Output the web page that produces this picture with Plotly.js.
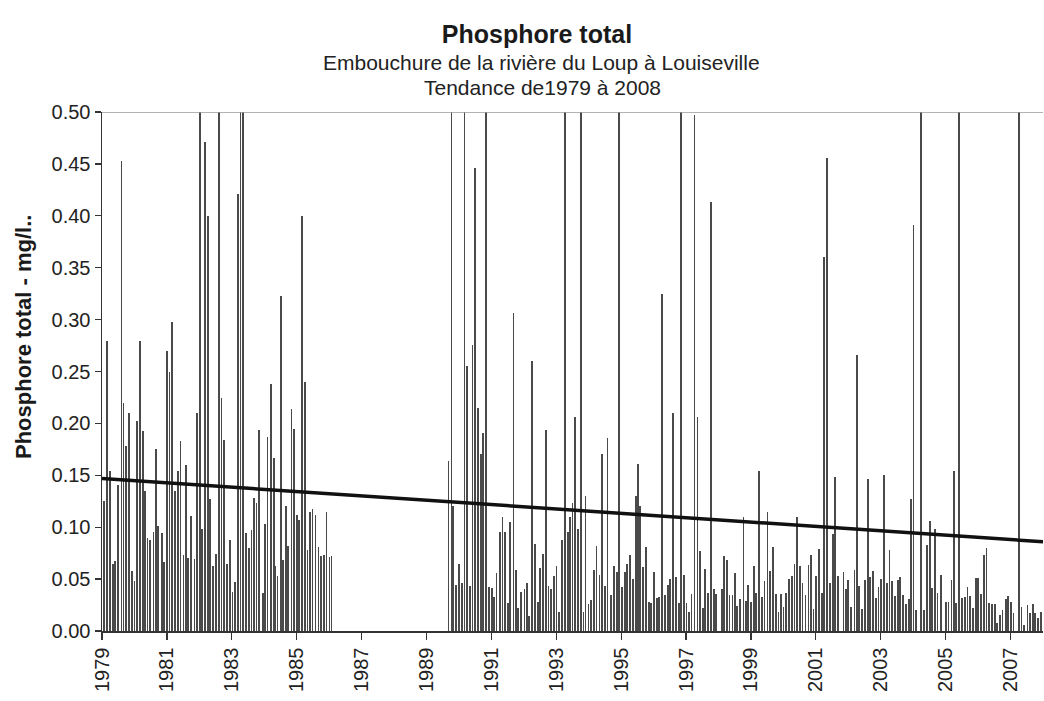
<!DOCTYPE html>
<html>
<head>
<meta charset="utf-8">
<script src="https://cdn.plot.ly/plotly-3.0.1.min.js"></script>
<style>html,body{margin:0;padding:0;background:#fff;}#chart{width:1044px;height:701px;}</style>
</head>
<body>
<div id="chart"></div>
<script>
// Sampling dates (decimal years) and total phosphorus (mg/l)
const years = [
 1979.06,1979.15,1979.25,1979.34,1979.41,1979.49,1979.60,1979.66,1979.74,1979.84,1979.93,
 1980.00,1980.07,1980.18,1980.27,1980.33,1980.40,1980.49,1980.59,1980.67,1980.73,1980.84,1980.92,
 1981.00,1981.08,1981.16,1981.25,1981.33,1981.42,1981.51,1981.60,1981.66,1981.75,1981.85,1981.93,
 1982.02,1982.09,1982.18,1982.26,1982.34,1982.42,1982.51,1982.61,1982.68,1982.75,1982.86,1982.94,
 1983.02,1983.10,1983.19,1983.27,1983.35,1983.43,1983.52,1983.61,1983.69,1983.76,1983.85,1983.95,
 1984.03,1984.10,1984.20,1984.29,1984.34,1984.41,1984.51,1984.59,1984.67,1984.74,1984.84,1984.92,
 1985.00,1985.08,1985.16,1985.26,1985.33,1985.41,1985.49,1985.58,1985.67,1985.75,1985.83,1985.92,1986.01,1986.07,
 1989.68,1989.77,1989.82,1989.92,1990.01,1990.09,1990.17,1990.25,1990.34,1990.42,1990.50,1990.59,1990.67,1990.75,1990.84,1990.92,
 1991.01,1991.08,1991.16,1991.26,1991.34,1991.42,1991.50,1991.57,1991.68,1991.76,1991.83,1991.92,
 1992.02,1992.09,1992.16,1992.26,1992.35,1992.43,1992.51,1992.59,1992.68,1992.76,1992.84,1992.93,
 1993.01,1993.09,1993.17,1993.27,1993.35,1993.42,1993.50,1993.58,1993.68,1993.76,1993.84,1993.90,1993.99,
 1994.08,1994.17,1994.24,1994.33,1994.42,1994.50,1994.58,1994.69,1994.79,1994.86,1994.94,
 1995.03,1995.11,1995.18,1995.27,1995.36,1995.45,1995.52,1995.59,1995.68,1995.77,1995.86,1995.92,
 1996.02,1996.10,1996.17,1996.26,1996.36,1996.44,1996.51,1996.59,1996.68,1996.78,1996.85,1996.93,
 1997.01,1997.10,1997.17,1997.26,1997.35,1997.43,1997.51,1997.59,1997.67,1997.77,1997.85,1997.92,
 1998.10,1998.18,1998.26,1998.34,1998.43,1998.51,1998.58,1998.66,1998.77,1998.84,1998.92,
 1999.01,1999.09,1999.16,1999.24,1999.33,1999.42,1999.51,1999.58,1999.67,1999.76,1999.85,1999.92,
 2000.00,2000.09,2000.18,2000.26,2000.34,2000.43,2000.52,2000.59,2000.68,2000.77,2000.85,2000.93,
 2001.00,2001.09,2001.19,2001.26,2001.34,2001.43,2001.52,2001.60,2001.68,2001.85,2001.92,
 2002.00,2002.08,2002.19,2002.26,2002.34,2002.42,2002.52,2002.60,2002.67,2002.76,2002.85,2002.93,
 2003.00,2003.10,2003.19,2003.27,2003.35,2003.43,2003.52,2003.60,2003.68,2003.77,2003.86,2003.93,
 2004.01,2004.09,2004.25,2004.33,2004.42,2004.52,2004.59,2004.67,2004.75,2004.85,
 2005.00,2005.09,2005.18,2005.25,2005.33,2005.42,2005.51,2005.59,2005.67,2005.75,2005.85,2005.93,
 2006.00,2006.09,2006.18,2006.26,2006.34,2006.42,2006.52,2006.59,2006.67,2006.75,2006.85,2006.93,
 2007.01,2007.09,2007.27,2007.34,2007.42,2007.52,2007.60,2007.68,2007.76,2007.85,2007.93
];
const phosphore = [
 0.125,0.279,0.154,0.065,0.067,0.141,0.453,0.220,0.178,0.210,0.058,
 0.048,0.202,0.279,0.193,0.135,0.090,0.088,0.095,0.175,0.101,0.094,0.066,
 0.270,0.250,0.298,0.135,0.154,0.183,0.073,0.160,0.070,0.111,0.069,0.210,
 0.600,0.098,0.471,0.400,0.127,0.063,0.074,0.600,0.224,0.184,0.065,0.088,
 0.038,0.047,0.421,0.600,0.600,0.094,0.080,0.097,0.128,0.123,0.194,0.037,
 0.103,0.187,0.238,0.167,0.063,0.053,0.323,0.068,0.120,0.082,0.214,0.195,
 0.112,0.107,0.400,0.240,0.078,0.115,0.118,0.112,0.081,0.072,0.073,0.115,0.071,0.072,
 0.164,0.600,0.120,0.044,0.065,0.046,0.600,0.255,0.043,0.276,0.446,0.215,0.171,0.191,0.600,0.042,
 0.041,0.033,0.056,0.095,0.110,0.095,0.027,0.105,0.306,0.059,0.022,0.038,
 0.040,0.046,0.014,0.260,0.084,0.028,0.061,0.074,0.194,0.043,0.040,0.053,
 0.063,0.018,0.088,0.600,0.095,0.110,0.123,0.206,0.098,0.600,0.018,0.130,0.026,
 0.030,0.059,0.082,0.054,0.171,0.043,0.186,0.035,0.063,0.057,0.600,
 0.042,0.057,0.065,0.073,0.050,0.130,0.161,0.120,0.062,0.081,0.028,0.027,
 0.057,0.032,0.033,0.325,0.035,0.044,0.050,0.210,0.052,0.027,0.600,0.054,
 0.027,0.018,0.036,0.497,0.206,0.077,0.022,0.060,0.037,0.413,0.040,0.036,
 0.040,0.072,0.068,0.035,0.035,0.056,0.024,0.031,0.110,0.029,0.044,
 0.028,0.063,0.037,0.154,0.033,0.048,0.115,0.058,0.081,0.036,0.018,0.036,
 0.023,0.037,0.050,0.053,0.065,0.110,0.063,0.046,0.035,0.064,0.073,0.021,
 0.053,0.079,0.037,0.360,0.456,0.046,0.093,0.148,0.053,0.057,0.040,
 0.049,0.023,0.059,0.266,0.043,0.021,0.049,0.146,0.052,0.058,0.032,0.042,
 0.050,0.150,0.046,0.078,0.048,0.034,0.049,0.052,0.035,0.026,0.031,0.127,
 0.391,0.020,0.600,0.020,0.083,0.106,0.041,0.098,0.037,0.054,
 0.028,0.028,0.049,0.154,0.027,0.600,0.032,0.033,0.042,0.034,0.022,0.051,
 0.051,0.036,0.073,0.080,0.027,0.026,0.026,0.008,0.015,0.020,0.031,0.034,
 0.028,0.017,0.600,0.023,0.006,0.025,0.017,0.026,0.017,0.013,0.018
];
// Linear trend 1979-2008
const trendYears = [1979, 2008];
const trendValues = [0.147, 0.086];
const tickYears = [1979,1981,1983,1985,1987,1989,1991,1993,1995,1997,1999,2001,2003,2005,2007];

const FONT = 'Arial, "Liberation Sans", sans-serif';
const traces = [
  {type:'bar', x:years, y:phosphore, width:0.055,
   marker:{color:'#4a4a4a', line:{width:0}}, hoverinfo:'x+y', showlegend:false},
  {type:'scatter', mode:'lines', x:trendYears, y:trendValues,
   line:{color:'#111', width:3.5}, showlegend:false}
];
const layout = {
  width:1044, height:701,
  margin:{l:102, r:1, t:112, b:70},
  paper_bgcolor:'#fff', plot_bgcolor:'#fff',
  font:{family:FONT, color:'#222'},
  title:{text:'<b>Phosphore total</b>', font:{size:25, family:FONT, color:'#1a1a1a'},
         x:537/1044, xref:'container', xanchor:'center', y:1-34/701, yref:'container', yanchor:'middle'},
  annotations:[
    {text:'Embouchure de la rivière du Loup à Louiseville', xref:'paper', yref:'paper',
     x:(541-102)/941, y:(631-62)/519, xanchor:'center', yanchor:'middle', showarrow:false,
     font:{size:21, family:FONT, color:'#222'}},
    {text:'Tendance de1979 à 2008', xref:'paper', yref:'paper',
     x:(542-102)/941, y:(631-87)/519, xanchor:'center', yanchor:'middle', showarrow:false,
     font:{size:21, family:FONT, color:'#222'}},
    {text:'<b>Phosphore total - mg/l..</b>', xref:'paper', yref:'paper',
     x:(23-102)/941, y:(631-337)/519, xanchor:'center', yanchor:'middle', textangle:-90, showarrow:false,
     font:{size:22, family:FONT, color:'#1a1a1a'}}
  ],
  shapes:[
    {type:'line', xref:'paper', yref:'y', x0:0, x1:1, y0:0.5, y1:0.5, line:{color:'#9a9a9a', width:1.5}}
  ],
  bargap:0,
  xaxis:{range:[1979, 2008], tickvals:tickYears, ticktext:tickYears.map(String), tickangle:-90,
         ticks:'outside', ticklen:7, tickcolor:'#333', tickwidth:1.2,
         showline:true, linecolor:'#333', linewidth:1.5, showgrid:false, zeroline:false,
         tickfont:{size:20, family:FONT, color:'#222'}},
  yaxis:{range:[0, 0.5], dtick:0.05, tick0:0, tickformat:'.2f',
         ticks:'outside', ticklen:6, tickcolor:'#333', tickwidth:1.2,
         showline:true, linecolor:'#333', linewidth:1.5, showgrid:false, zeroline:false,
         tickfont:{size:20, family:FONT, color:'#222'}}
};
Plotly.newPlot('chart', traces, layout, {displayModeBar:false, staticPlot:true});
</script>
</body>
</html>
